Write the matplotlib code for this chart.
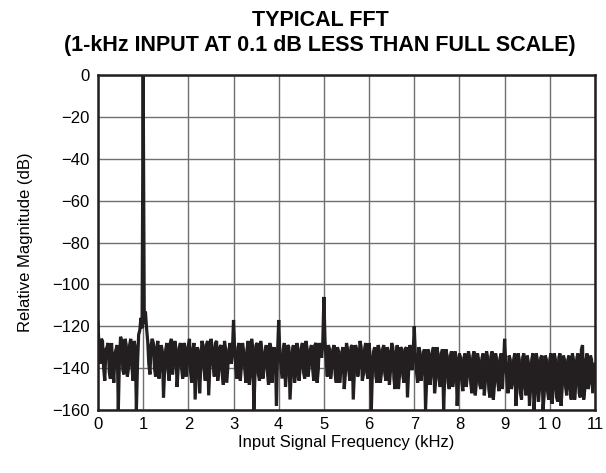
import numpy as np
import matplotlib
matplotlib.use("Agg")
from matplotlib import pyplot as plt

plt.rcParams['font.family'] = ['Liberation Sans', 'DejaVu Sans']

# frequency bins (kHz), 25 Hz apart
freq = np.round(np.arange(0, 11.0001, 0.025), 3)

# magnitude (dB), one list per kHz
mag_0 = [-118, -132, -138, -126, -127, -140, -146, -131, -130, -128,
         -142, -145, -128, -139, -147, -133, -131, -129, -160, -136,
         -125, -127, -141, -143, -126, -129, -144, -140, -129, -126,
         -139, -146, -127, -130, -160, -138, -124, -122, -116, -121]
mag_1 = [0, -119, -113, -121, -127, -138, -143, -129, -126, -128,
         -140, -144, -130, -127, -145, -139, -129, -132, -154, -141,
         -131, -128, -141, -146, -128, -126, -143, -137, -127, -131,
         -149, -140, -130, -128, -140, -145, -128, -130, -144, -138]
mag_2 = [-129, -126, -142, -147, -131, -128, -155, -143, -130, -132,
         -152, -139, -127, -129, -141, -146, -129, -127, -153, -140,
         -126, -130, -139, -144, -128, -127, -146, -141, -130, -129,
         -143, -148, -127, -131, -147, -139, -131, -128, -138, -132]
mag_3 = [-117, -131, -140, -145, -130, -128, -146, -139, -128, -132,
         -141, -147, -131, -127, -148, -142, -126, -130, -160, -143,
         -129, -128, -143, -146, -127, -131, -145, -140, -132, -129,
         -142, -148, -128, -130, -147, -139, -130, -133, -158, -132]
mag_4 = [-117, -133, -139, -145, -131, -128, -149, -141, -129, -130,
         -155, -144, -132, -129, -147, -143, -128, -131, -146, -140,
         -130, -128, -142, -145, -127, -130, -144, -139, -131, -129,
         -140, -146, -129, -128, -147, -141, -128, -131, -135, -128]
mag_5 = [-106, -127, -136, -144, -129, -131, -145, -140, -131, -129,
         -143, -147, -130, -132, -147, -141, -132, -130, -150, -143,
         -128, -131, -141, -146, -130, -129, -155, -142, -129, -131,
         -144, -139, -127, -130, -146, -143, -131, -128, -142, -145]
mag_6 = [-128, -135, -160, -141, -132, -130, -144, -147, -129, -131,
         -147, -142, -131, -129, -143, -146, -130, -132, -148, -141,
         -128, -130, -145, -150, -132, -129, -150, -143, -130, -131,
         -144, -147, -131, -130, -154, -142, -129, -131, -141, -133]
mag_7 = [-120, -134, -142, -147, -130, -132, -146, -141, -133, -131,
         -160, -145, -131, -133, -148, -143, -132, -130, -152, -146,
         -130, -133, -145, -149, -133, -131, -160, -144, -131, -134,
         -147, -150, -134, -132, -149, -145, -132, -135, -158, -147]
mag_8 = [-133, -135, -146, -151, -135, -133, -149, -144, -132, -135,
         -147, -152, -134, -132, -153, -147, -133, -136, -148, -150,
         -135, -133, -153, -146, -132, -135, -150, -154, -134, -132,
         -155, -148, -133, -136, -147, -151, -135, -133, -150, -139]
mag_9 = [-126, -138, -145, -152, -134, -136, -150, -147, -136, -133,
         -158, -149, -133, -136, -152, -155, -135, -133, -149, -153,
         -134, -137, -158, -150, -136, -133, -160, -152, -133, -136,
         -156, -149, -135, -134, -160, -153, -134, -136, -151, -155]
mag_10 = [-136, -133, -157, -150, -133, -136, -154, -156, -135, -133,
          -158, -149, -134, -136, -149, -153, -136, -134, -150, -155,
          -133, -136, -155, -148, -135, -133, -152, -154, -131, -129,
          -155, -150, -136, -133, -150, -147, -134, -136, -152, -145, -138]

mag = mag_0 + mag_1 + mag_2 + mag_3 + mag_4 + mag_5 + mag_6 + mag_7 + mag_8 + mag_9 + mag_10

xticks = list(range(0, 12))
xlabels = ['0', '1', '2', '3', '4', '5', '6', '7', '8', '9', '1 0', '11']
yticks = list(range(-160, 1, 20))

fig = plt.figure(figsize=(6.06, 4.73), dpi=100)
ax = fig.add_axes([0.1617, 0.1332, 0.8201, 0.7082])

ax.plot(freq, mag, color='#231f20', lw=2.3, solid_joinstyle='miter', zorder=3)

ax.set_xlim(0, 11)
ax.set_ylim(-160, 0)
ax.set_xticks(xticks)
ax.set_xticklabels(xlabels)
ax.set_yticks(yticks)
ax.grid(True, color='#707070', lw=1.0)
ax.tick_params(length=0, labelsize=12, pad=6)
ax.tick_params(axis='x', pad=5)
for s in ax.spines.values():
    s.set_linewidth(1.8)
    s.set_color('#231f20')

ax.set_xlabel('Input Signal Frequency (kHz)', fontsize=12, labelpad=2)
ax.set_ylabel('Relative Magnitude (dB)', fontsize=12, labelpad=14)
fig.text(0.528, 0.978, 'TYPICAL FFT\n(1-kHz INPUT AT 0.1 dB LESS THAN FULL SCALE)',
         ha='center', va='top', fontsize=15.5, fontweight='bold', linespacing=1.2)

plt.savefig('out.png')
